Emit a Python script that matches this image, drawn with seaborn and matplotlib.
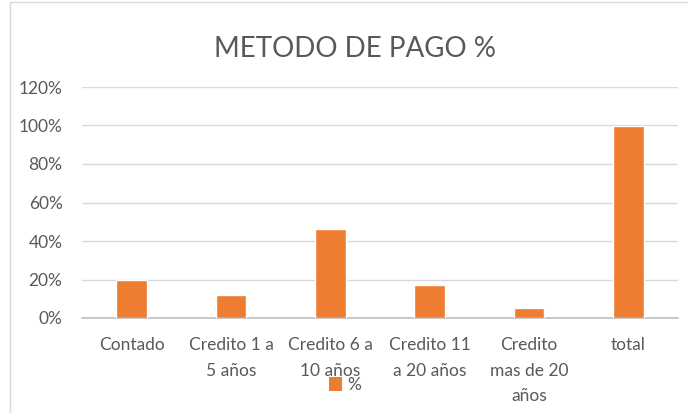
import matplotlib
matplotlib.use("Agg")
import matplotlib.pyplot as plt
import seaborn as sns
import pandas as pd
from matplotlib.ticker import FuncFormatter, MultipleLocator
from matplotlib.patches import Rectangle, Patch

categories = ["Contado", "Credito 1 a\n5 años", "Credito 6 a\n10 años",
              "Credito 11\na 20 años", "Credito\nmas de 20\naños", "total"]
values = [0.20, 0.12, 0.46, 0.17, 0.05, 1.00]
series_name = "%"
title = "METODO DE PAGO %"

sns.set_theme(style="white")
plt.rcParams['font.family'] = ['Lato', 'DejaVu Sans']

df = pd.DataFrame({"cat": categories, "val": values})

fig = plt.figure(figsize=(6.88, 4.13), dpi=100)
ax = fig.add_axes([82/688, 1 - 318/413, (678-82)/688, (318-87)/413])

sns.barplot(data=df, x="cat", y="val", color="#ED7D31", width=0.31,
            saturation=1, ax=ax, zorder=3)

ax.set_ylim(0, 1.2)
ax.yaxis.set_major_locator(MultipleLocator(0.2))
ax.yaxis.set_major_formatter(FuncFormatter(lambda v, p: f"{v*100:.0f}%"))
ax.grid(axis="y", color="#D9D9D9", linewidth=1, zorder=0)
ax.set_axisbelow(True)
for s in ["top", "right", "left"]:
    ax.spines[s].set_visible(False)
ax.spines["bottom"].set_color("#BFBFBF")
ax.spines["bottom"].set_linewidth(1.2)
ax.set_xlabel("")
ax.set_ylabel("")
ax.tick_params(axis="x", length=0, labelsize=12.5, colors="#595959", pad=14)
ax.tick_params(axis="y", length=0, labelsize=12.5, colors="#595959", pad=14)
for lbl in ax.get_xticklabels():
    lbl.set_linespacing(1.7)
for lbl in ax.get_yticklabels():
    lbl.set_horizontalalignment("right")

fig.text(355/688, 1 - 49/413, title, ha="center", va="center",
         fontsize=20, color="#595959")

handles = [Patch(facecolor="#ED7D31", edgecolor="none", label=series_name)]
fig.legend(handles=handles, loc="center", bbox_to_anchor=(345/688, 1 - 385/413),
           frameon=False, fontsize=12.5, labelcolor="#595959",
           handlelength=0.8, handleheight=0.8, handletextpad=0.3)

fig.patches.append(Rectangle((10/688, -0.01), 1.0, 1.0 + 0.005, transform=fig.transFigure,
                             fill=False, edgecolor="#D9D9D9", linewidth=1))

fig.savefig("out.png", dpi=100)
